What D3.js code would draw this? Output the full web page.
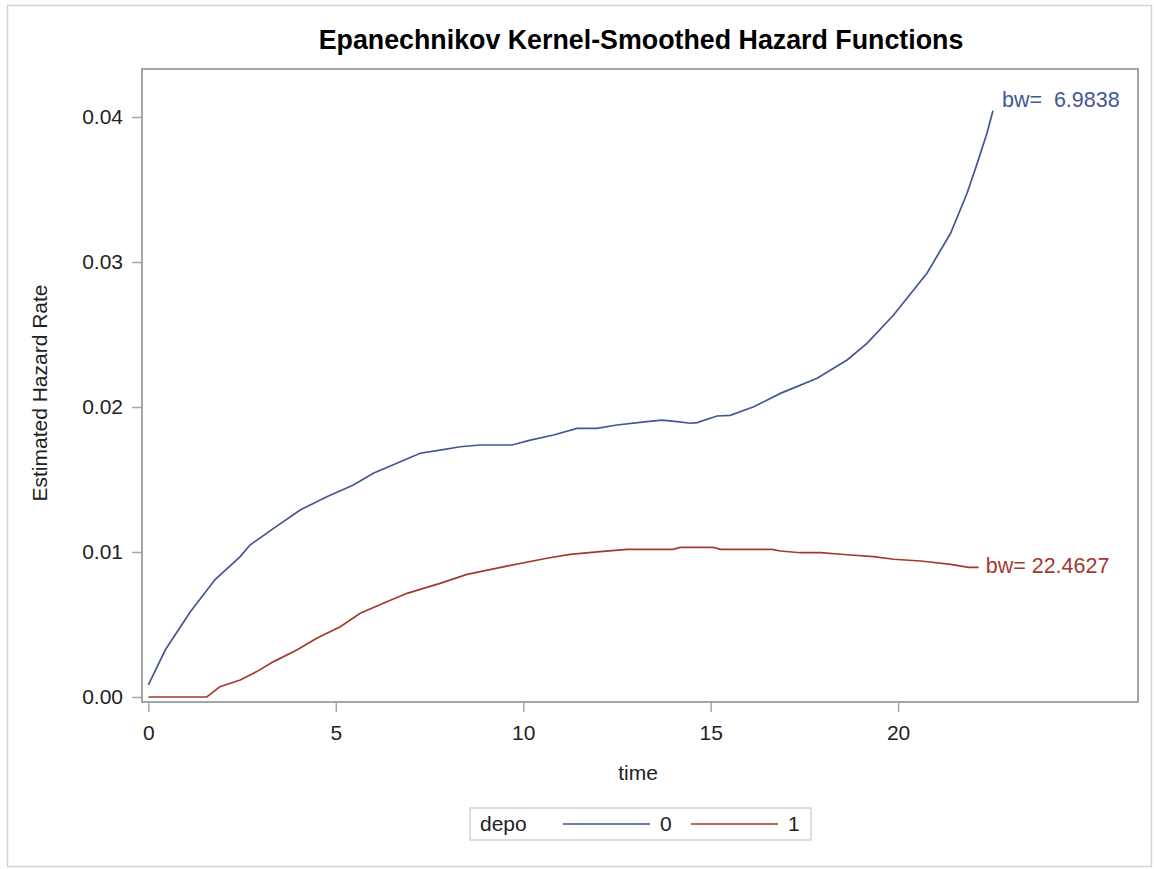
<!DOCTYPE html>
<html>
<head>
<meta charset="utf-8">
<script src="https://cdn.jsdelivr.net/npm/d3@7"></script>
<style>
  body { margin: 0; background: #fff; }
  text { font-family: "Liberation Sans", Arial, sans-serif; }
</style>
</head>
<body>
<svg id="chart" width="1154" height="869"></svg>
<script>
// depo = 0
var time0 = [0.0, 0.45, 1.12, 1.78, 2.45, 2.71, 3.34, 4.05, 4.76, 5.47, 6.0, 6.72, 7.25, 7.78, 8.32, 8.85, 9.7,
  10.19, 10.81, 11.43, 11.97, 12.5, 13.3, 13.7, 14.1, 14.46, 14.64, 15.17, 15.52, 16.15, 16.86, 17.84, 18.64,
  19.17, 19.88, 20.77, 21.4, 21.84, 22.11, 22.37, 22.53];
var haz0 = [0.00083, 0.00324, 0.00588, 0.0081, 0.00968, 0.01048, 0.01163, 0.0129, 0.01381, 0.01462, 0.01543,
  0.01623, 0.01681, 0.01703, 0.01726, 0.01738, 0.01738, 0.01772, 0.01807, 0.01853, 0.01853, 0.01876, 0.01899,
  0.0191, 0.01899, 0.01888, 0.01892, 0.01938, 0.01942, 0.02002, 0.02094, 0.02198, 0.02324, 0.02439, 0.02634,
  0.02922, 0.03198, 0.03474, 0.0368, 0.03888, 0.04043];
// depo = 1
var time1 = [0.0, 1.56, 1.91, 2.45, 2.89, 3.34, 3.96, 4.49, 5.12, 5.65, 6.27, 6.9, 7.78, 8.5, 9.56, 10.63,
  11.25, 12.05, 12.77, 14.0, 14.19, 15.08, 15.26, 16.64, 16.86, 17.39, 17.93, 18.64, 19.35, 19.88, 20.6,
  21.4, 21.88, 22.15];
var haz1 = [0.0, 0.0, 0.00071, 0.00117, 0.00175, 0.00244, 0.00324, 0.00405, 0.00485, 0.00577, 0.00646,
  0.00715, 0.00784, 0.00846, 0.00903, 0.00957, 0.00984, 0.01002, 0.01018, 0.01018, 0.01032, 0.01032, 0.01018,
  0.01018, 0.01007, 0.00995, 0.00995, 0.00981, 0.00968, 0.0095, 0.00938, 0.00915, 0.00894, 0.00894];

var groups = ["0", "1"];
var colors = ["#445694", "#A23A2E"];
var bwLabels = ["bw=  6.9838", "bw= 22.4627"];
var xTicks = [0, 5, 10, 15, 20];
var yTicks = [0, 0.01, 0.02, 0.03, 0.04];

var svg = d3.select("#chart");
var plotLeft = 142, plotRight = 1138, plotTop = 69, plotBottom = 702;

var x = d3.scaleLinear().domain([-0.17, 26.4]).range([plotLeft, plotRight]);
var y = d3.scaleLinear().domain([-0.000345, 0.04331]).range([plotBottom, plotTop]);

// outer border
svg.append("rect").attr("x", 7.5).attr("y", 5.5).attr("width", 1144).attr("height", 861)
  .attr("fill", "none").attr("stroke", "#d4d4d4").attr("stroke-width", 1.5);

svg.append("text").attr("x", 641).attr("y", 49).attr("text-anchor", "middle")
  .style("font-size", "26.8px").style("font-weight", "bold").attr("fill", "#000")
  .text("Epanechnikov Kernel-Smoothed Hazard Functions");

// axes
var xAxis = svg.append("g").attr("transform", "translate(0," + plotBottom + ")")
  .call(d3.axisBottom(x).tickValues(xTicks).tickSize(10).tickPadding(13));
var yAxis = svg.append("g").attr("transform", "translate(" + plotLeft + ",0)")
  .call(d3.axisLeft(y).tickValues(yTicks).tickSize(10).tickPadding(9).tickFormat(d3.format(".2f")));
[xAxis, yAxis].forEach(function (g) {
  g.select(".domain").remove();
  g.selectAll("line").attr("stroke", "#a3a7ab").attr("stroke-width", 1.5);
  g.selectAll("text").style("font-size", "21px").attr("fill", "#222")
    .style("font-family", "'Liberation Sans', Arial, sans-serif");
});

svg.append("rect").attr("x", plotLeft).attr("y", plotTop)
  .attr("width", plotRight - plotLeft).attr("height", plotBottom - plotTop)
  .attr("fill", "none").attr("stroke", "#a3a7ab").attr("stroke-width", 2);

svg.append("text").attr("x", 638).attr("y", 780).attr("text-anchor", "middle")
  .style("font-size", "21px").attr("fill", "#222").text("time");
svg.append("text").attr("transform", "translate(47,393) rotate(-90)").attr("text-anchor", "middle")
  .style("font-size", "21px").attr("fill", "#222").text("Estimated Hazard Rate");

var line = d3.line().x(function (d) { return x(d[0]); }).y(function (d) { return y(d[1]); });
var series = [d3.zip(time0, haz0), d3.zip(time1, haz1)];
var labelOffsets = [[9, -4], [7, 6]];

series.forEach(function (pts, i) {
  svg.append("path").datum(pts).attr("d", line)
    .attr("fill", "none").attr("stroke", colors[i]).attr("stroke-width", 1.7);
  var last = pts[pts.length - 1];
  svg.append("text").attr("x", x(last[0]) + labelOffsets[i][0]).attr("y", y(last[1]) + labelOffsets[i][1])
    .attr("xml:space", "preserve").style("white-space", "pre")
    .style("font-size", "21.5px").attr("fill", colors[i]).text(bwLabels[i]);
});

// legend
var lg = svg.append("g");
lg.append("rect").attr("x", 470).attr("y", 808).attr("width", 341).attr("height", 32)
  .attr("fill", "#fff").attr("stroke", "#d4d4d4").attr("stroke-width", 1.5);
lg.append("text").attr("x", 480).attr("y", 831).style("font-size", "21px").attr("fill", "#222").text("depo");
var legX = [563, 691];
groups.forEach(function (g, i) {
  lg.append("line").attr("x1", legX[i]).attr("x2", legX[i] + 87).attr("y1", 824).attr("y2", 824)
    .attr("stroke", colors[i]).attr("stroke-width", 1.7);
  lg.append("text").attr("x", legX[i] + 97).attr("y", 831).style("font-size", "21px").attr("fill", "#222").text(g);
});
</script>
</body>
</html>
